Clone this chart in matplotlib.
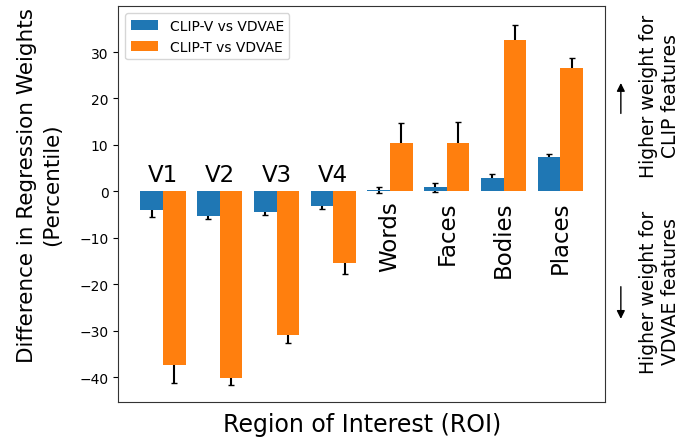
import matplotlib
matplotlib.use('Agg')
import matplotlib.pyplot as plt
import numpy as np

rois = ['V1', 'V2', 'V3', 'V4', 'Words', 'Faces', 'Bodies', 'Places']
clip_v = [-4.0, -5.2, -4.4, -3.2, 0.3, 0.9, 2.9, 7.4]
clip_v_err = [1.4, 0.7, 0.6, 0.6, 0.7, 1.0, 0.8, 0.7]
clip_t = [-37.4, -40.1, -30.8, -15.4, 10.5, 10.5, 32.5, 26.6]
clip_t_err = [3.8, 1.6, 1.7, 2.4, 4.2, 4.5, 3.4, 2.1]

x = np.arange(len(rois))
w = 0.4

fig = plt.figure(figsize=(6.83, 4.39), dpi=100)
ax = fig.add_axes([0.173, 0.082, 0.713, 0.901])

# error bars first so the bars hide the inner half
ax.errorbar(x - w/2, clip_v, yerr=clip_v_err, fmt='none', ecolor='black', capsize=2.5, elinewidth=1.5, zorder=1)
ax.errorbar(x + w/2, clip_t, yerr=clip_t_err, fmt='none', ecolor='black', capsize=2.5, elinewidth=1.5, zorder=1)
ax.bar(x - w/2, clip_v, w, color='tab:blue', label='CLIP-V vs VDVAE', zorder=2)
ax.bar(x + w/2, clip_t, w, color='tab:orange', label='CLIP-T vs VDVAE', zorder=2)

for i, name in enumerate(rois):
    if i < 4:
        ax.text(x[i], 2.2, name, ha='center', va='baseline', fontsize=16.5)
    else:
        ax.text(x[i], -2.0, name, ha='center', va='top', rotation=90, fontsize=16.5)

ax.set_xticks([])
ax.set_ylim(-45.3, 39.8)
ax.set_yticks([-40, -30, -20, -10, 0, 10, 20, 30])
ax.tick_params(axis='y', labelsize=10)
for s in ax.spines.values():
    s.set_color('0.2')
ax.set_xlabel('Region of Interest (ROI)', fontsize=17, labelpad=7)
ax.set_ylabel('Difference in Regression Weights\n(Percentile)', fontsize=15.5, labelpad=12, linespacing=1.35)
ax.yaxis.label.set_y(0.551)
ax.legend(loc='upper left', fontsize=10)

fig.text(0.966, 0.781, 'Higher weight for\nCLIP features', rotation=90, ha='center', va='center', fontsize=13.5)
fig.text(0.966, 0.335, 'Higher weight for\nVDVAE features', rotation=90, ha='center', va='center', fontsize=13.5)
ax.annotate('', xy=(0.909, 0.815), xytext=(0.909, 0.733), xycoords='figure fraction',
            arrowprops=dict(arrowstyle='-|>', color='black', lw=1, mutation_scale=12))
ax.annotate('', xy=(0.909, 0.265), xytext=(0.909, 0.351), xycoords='figure fraction',
            arrowprops=dict(arrowstyle='-|>', color='black', lw=1, mutation_scale=12))

fig.savefig('out.png', dpi=100)
